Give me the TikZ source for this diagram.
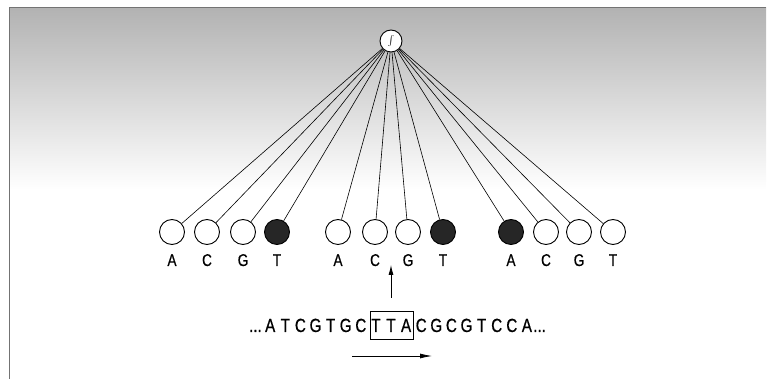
\documentclass[tikz,border=0pt]{standalone}
\usepackage{fontspec}
\setmainfont{Liberation Sans}[FakeStretch=0.8,FakeBold=0.6]
\usetikzlibrary{arrows.meta}
\begin{document}
\begin{tikzpicture}[x=1pt,y=-1pt,
 unit/.style={circle,draw,line width=0.9pt,minimum size=25pt,inner sep=0pt,fill=white},
 on/.style={unit,fill=black!85},
 lab/.style={font=\fontsize{17}{17}\selectfont,inner sep=0pt,anchor=base},
 seq/.style={font=\fontsize{19}{19}\selectfont,inner sep=0pt,anchor=base},
 conn/.style={line width=0.6pt},
 frame/.style={line width=1pt,black!55}]
\useasboundingbox (0,0) rectangle (772,379);
\shade[top color=black!30, bottom color=white] (9,8) rectangle (766,190);
\draw[frame] (9,8) -- (766,8);
\draw[frame] (9,8) -- (9,379);
% top unit
\node[unit,minimum size=22pt] (top) at (391,41) {\fontsize{17}{17}\selectfont$\int$};
% input units
\node[unit] (a1) at (172,232) {};
\node[unit] (c1) at (207,232) {};
\node[unit] (g1) at (243,232) {};
\node[on]   (t1) at (277,232) {};
\node[unit] (a2) at (338,232) {};
\node[unit] (c2) at (375,232) {};
\node[unit] (g2) at (408,232) {};
\node[on]   (t2) at (443,232) {};
\node[on]   (a3) at (511,232) {};
\node[unit] (c3) at (546,232) {};
\node[unit] (g3) at (579,232) {};
\node[unit] (t3) at (613,232) {};
\foreach \n in {a1,c1,g1,t1,a2,c2,g2,t2,a3,c3,g3,t3}
  \draw[conn] (top) -- (\n);
% labels
\foreach \n/\l in {a1/A,c1/C,g1/G,t1/T,a2/A,c2/C,g2/G,t2/T,a3/A,c3/C,g3/G,t3/T}
  \node[lab] (l\n) at ([yshift=-34pt]\n.center) {\l};
% sequence
\foreach \l [count=\i] in {A,T,C,G,T,G,C,T,T,A,C,G,C,G,T,C,C,A}
  \node[seq] (s\i) at ({391+(\i-9)*15.1},332) {\l};
\node[seq,anchor=base east] (dl) at (262,332) {...};
\node[seq,anchor=base west] (dr) at (533,332) {...};
\node[draw,line width=0.8pt,minimum width=43pt,minimum height=28pt,inner sep=0pt] (box) at (391.5,325) {};
% arrows
\coordinate (vb) at (391,298);
\coordinate (vt) at (391,265);
\draw[line width=0.8pt,-{Latex[length=10pt,width=5pt]}] (vb) -- (vt);
\coordinate (hs) at (352,356);
\coordinate (he) at (432,356);
\draw[line width=0.8pt,-{Latex[length=12pt,width=5pt]}] (hs) -- (he);
\end{tikzpicture}
\end{document}
